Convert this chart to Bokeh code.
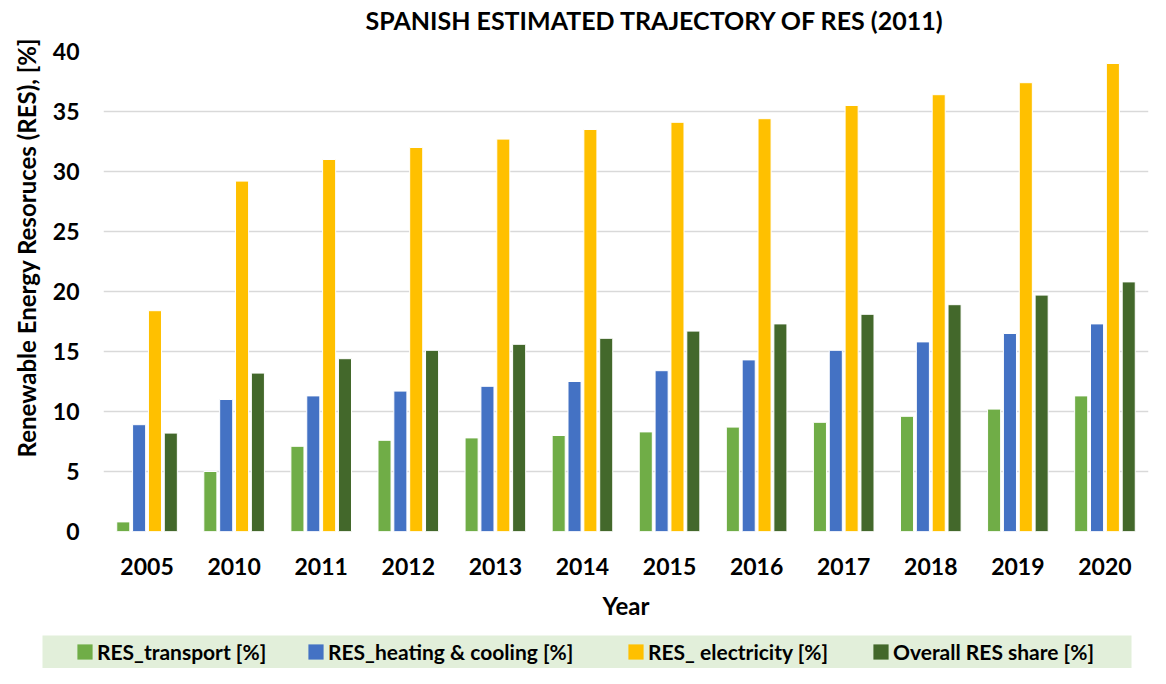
from bokeh.plotting import figure
from bokeh.layouts import column
from bokeh.models import (FactorRange, Range1d, Legend, LegendItem, Title,
                          ColumnDataSource, FixedTicker, BoxAnnotation)
from bokeh.transform import dodge
from bokeh.embed import file_html
from bokeh.resources import INLINE

years = ["2005", "2010", "2011", "2012", "2013", "2014", "2015", "2016",
         "2017", "2018", "2019", "2020"]
res_transport = [0.8, 5.0, 7.1, 7.6, 7.8, 8.0, 8.3, 8.7, 9.1, 9.6, 10.2, 11.3]
res_heating_cooling = [8.9, 11.0, 11.3, 11.7, 12.1, 12.5, 13.4, 14.3, 15.1, 15.8, 16.5, 17.3]
res_electricity = [18.4, 29.2, 31.0, 32.0, 32.7, 33.5, 34.1, 34.4, 35.5, 36.4, 37.4, 39.0]
overall_res_share = [8.2, 13.2, 14.4, 15.1, 15.6, 16.1, 16.7, 17.3, 18.1, 18.9, 19.7, 20.8]
y_ticks = [0, 5, 10, 15, 20, 25, 30, 35, 40]

series_names = ["RES_transport [%]", "RES_heating & cooling [%]",
                "RES_ electricity [%]", "Overall RES share [%]"]
series_cols = ["transport", "heating", "electricity", "overall"]
colors = ["#70AD47", "#4472C4", "#FFC000", "#43682B"]
offsets = [-0.273, -0.091, 0.091, 0.273]

source = ColumnDataSource(dict(year=years, transport=res_transport,
                               heating=res_heating_cooling,
                               electricity=res_electricity,
                               overall=overall_res_share))

FONT = "Lato"
W = 1150

# ---------------- main chart ----------------
p = figure(width=W, height=628,
           x_range=FactorRange(*years, range_padding=0),
           y_range=Range1d(0, 40),
           title="SPANISH ESTIMATED TRAJECTORY OF RES (2011)",
           output_backend="svg", toolbar_location=None,
           min_border_left=100, min_border_right=2,
           min_border_top=51, min_border_bottom=97)
p.outline_line_color = None
p.background_fill_color = "white"

p.title.align = "left"
p.title.offset = 262
p.title.vertical_align = "top"
p.title.text_font = FONT
p.title.text_font_style = "bold"
p.title.text_font_size = "25px"
p.title.text_color = "black"
p.title.standoff = 0

# small blank spacer between the frame and the title
p.add_layout(Title(text=" ", text_font_size="4px", standoff=8), "above")

renderers = []
for col, c, off in zip(series_cols, colors, offsets):
    r = p.vbar(x=dodge("year", off, range=p.x_range), top=col, width=0.15,
               source=source, fill_color=c, line_color="white", line_width=1)
    renderers.append(r)

p.yaxis.ticker = FixedTicker(ticks=y_ticks)
p.yaxis.axis_line_color = None
p.yaxis.major_tick_line_color = None
p.yaxis.minor_tick_line_color = None
p.yaxis.major_label_standoff = 18
p.yaxis.major_label_text_font = FONT
p.yaxis.major_label_text_font_style = "bold"
p.yaxis.major_label_text_font_size = "23px"
p.yaxis.major_label_text_color = "black"

p.add_layout(Title(text="Renewable Energy Resoruces (RES), [%]", align="left",
                   offset=74, standoff=18, text_font=FONT,
                   text_font_style="bold", text_font_size="24px",
                   text_color="black"), "left")

p.xaxis.axis_line_color = None
p.xaxis.major_tick_line_color = None
p.xaxis.major_label_standoff = 20
p.xaxis.major_label_text_font = FONT
p.xaxis.major_label_text_font_style = "bold"
p.xaxis.major_label_text_font_size = "23px"
p.xaxis.major_label_text_color = "black"
p.xaxis.axis_label = "Year"
p.xaxis.axis_label_text_font = FONT
p.xaxis.axis_label_text_font_style = "bold"
p.xaxis.axis_label_text_font_size = "24px"
p.xaxis.axis_label_text_color = "black"
p.xaxis.axis_label_standoff = 13

p.xgrid.grid_line_color = None
p.ygrid.ticker = FixedTicker(ticks=y_ticks)
p.ygrid.grid_line_color = "#D9D9D9"
p.ygrid.grid_line_width = 1.5

# ---------------- legend strip ----------------
leg = figure(width=W, height=40,
             x_range=FactorRange(*years, range_padding=0),
             y_range=Range1d(100, 140),
             x_axis_type=None, y_axis_type=None,
             output_backend="svg", toolbar_location=None,
             min_border_left=0, min_border_right=0,
             min_border_top=0, min_border_bottom=0)
leg.frame_align = False
leg.grid.visible = False
leg.outline_line_color = None
leg.add_layout(BoxAnnotation(left=42, right=1131, bottom=0, top=33,
                             left_units="screen", right_units="screen",
                             bottom_units="screen", top_units="screen",
                             fill_color="#E2EFDA", fill_alpha=1.0,
                             line_color=None))

# legend swatches: same series, drawn below the strip's visible range
item_x = [75, 306, 626, 871]
for name, col, c, off, x0 in zip(series_names, series_cols, colors, offsets, item_x):
    dr = leg.vbar(x=dodge("year", off, range=leg.x_range), top=col, width=0.15,
                  source=source, fill_color=c, line_color=None)
    leg.add_layout(Legend(items=[LegendItem(label=name, renderers=[dr])],
                          location=(x0, 4), orientation="horizontal",
                          background_fill_alpha=0, border_line_color=None,
                          padding=0, margin=0, glyph_width=19, glyph_height=19,
                          label_standoff=3, label_height=24,
                          label_text_font=FONT, label_text_font_style="bold",
                          label_text_font_size="21px",
                          label_text_color="black"), "center")

layout = column(p, leg, spacing=0)
open("out.html", "w").write(file_html(layout, INLINE))
